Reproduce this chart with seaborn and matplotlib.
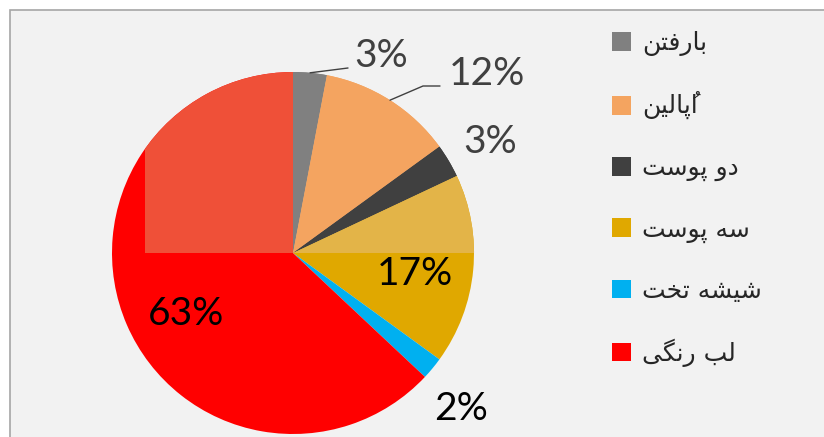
import seaborn as sns
import matplotlib.pyplot as plt
from matplotlib.patches import Rectangle
from matplotlib.transforms import Bbox, TransformedBbox
import numpy as np

# data
materials = ['بارفتن', 'اُپالین', 'دو پوست', 'سه پوست', 'شیشه تخت', 'لب رنگی']
shares = [3, 12, 3, 17, 2, 63]
slice_colors = ['#808080', '#F4A460', '#404040', '#E0A800', '#00B0F0', '#FF0000']
# same slices where the scanned watermark lightens them
washed_colors = ['#808080', '#F4A460', '#404040', '#E3B448', '#00B0F0', '#EF5038']

sns.set_theme(style='white')
plt.rcParams['font.family'] = ['Lato', 'DejaVu Sans']

# matplotlib does no arabic shaping, so pick the joined glyph forms by hand
FORMS = {
    'ا': ('\uFE8D', '\uFE8E', None, None),
    'ب': ('\uFE8F', '\uFE90', '\uFE91', '\uFE92'),
    'ت': ('\uFE95', '\uFE96', '\uFE97', '\uFE98'),
    'خ': ('\uFEA5', '\uFEA6', '\uFEA7', '\uFEA8'),
    'د': ('\uFEA9', '\uFEAA', None, None),
    'ر': ('\uFEAD', '\uFEAE', None, None),
    'س': ('\uFEB1', '\uFEB2', '\uFEB3', '\uFEB4'),
    'ش': ('\uFEB5', '\uFEB6', '\uFEB7', '\uFEB8'),
    'ف': ('\uFED1', '\uFED2', '\uFED3', '\uFED4'),
    'ل': ('\uFEDD', '\uFEDE', '\uFEDF', '\uFEE0'),
    'ن': ('\uFEE5', '\uFEE6', '\uFEE7', '\uFEE8'),
    'ه': ('\uFEE9', '\uFEEA', '\uFEEB', '\uFEEC'),
    'و': ('\uFEED', '\uFEEE', None, None),
    'پ': ('\uFB56', '\uFB57', '\uFB58', '\uFB59'),
    'گ': ('\uFB92', '\uFB93', '\uFB94', '\uFB95'),
    'ی': ('\uFBFC', '\uFBFD', '\uFBFE', '\uFBFF'),
}


def is_mark(c):
    return '\u064B' <= c <= '\u0652'


def shape(text):
    chars = list(text)
    glyphs = []
    for i, c in enumerate(chars):
        if c not in FORMS:
            glyphs.append(c)
            continue
        j = i - 1
        while j >= 0 and is_mark(chars[j]):
            j -= 1
        k = i + 1
        while k < len(chars) and is_mark(chars[k]):
            k += 1
        iso, fin, ini, med = FORMS[c]
        joins_prev = j >= 0 and chars[j] in FORMS and FORMS[chars[j]][2] is not None
        joins_next = ini is not None and k < len(chars) and chars[k] in FORMS
        if joins_prev and joins_next:
            glyphs.append(med)
        elif joins_prev:
            glyphs.append(fin)
        elif joins_next:
            glyphs.append(ini)
        else:
            glyphs.append(iso)
    clusters = []
    for c, g in zip(chars, glyphs):
        if is_mark(c) and clusters:
            clusters[-1] = g + clusters[-1]
        else:
            clusters.append(g)
    return ''.join(reversed(clusters))


W, H = 824, 437
fig = plt.figure(figsize=(W / 100, H / 100), dpi=100, facecolor='white')
ax = fig.add_axes([0, 0, 1, 1])

cx, cy, r = 293, H - 253, 181

# chart area
ax.add_patch(Rectangle((10, -5), W, H - 5, facecolor='#F2F2F2',
                       edgecolor='#A6A6A6', lw=1.2, zorder=0))

wedges, _ = ax.pie(shares, colors=slice_colors, startangle=90, counterclock=False,
                   center=(cx, cy), radius=r, wedgeprops=dict(linewidth=0))
for w in wedges:
    w.set_zorder(1)

# lighter top-left block left by the watermark
washed, _ = ax.pie(shares, colors=washed_colors, startangle=90, counterclock=False,
                   center=(cx, cy), radius=r, wedgeprops=dict(linewidth=0))
ax.set_xlim(0, W)
ax.set_ylim(0, H)
wash_box = TransformedBbox(Bbox([[145, cy], [600, H - 10]]), ax.transData)
for w in washed:
    w.set_clip_on(True)
    w.set_clip_box(wash_box)
    w.set_zorder(2)

# data labels: offset from the centre (x right, y up, baseline)
label_offsets = [(88, 186), (194, 168), (197, 100), (122, -32), (168, -167), (-107, -72)]
label_colors = ['#404040', '#404040', '#404040', 'black', 'black', 'black']
for v, (dx, dy), col in zip(shares, label_offsets, label_colors):
    ax.text(cx + dx, cy + dy, f'{v}%', ha='center', va='baseline',
            fontsize=28, color=col, zorder=4)

# leader lines for the two small top slices
leader_ends = {0: [(55, 185)], 1: [(130, 167), (147, 167)]}
for i, pts in leader_ends.items():
    mid = np.deg2rad((wedges[i].theta1 + wedges[i].theta2) / 2)
    xs = [cx + r * np.cos(mid)] + [cx + p[0] for p in pts]
    ys = [cy + r * np.sin(mid)] + [cy + p[1] for p in pts]
    ax.plot(xs, ys, color='#404040', lw=1, zorder=4)

ax.set_xlim(0, W)
ax.set_ylim(0, H)
ax.axis('off')

leg = ax.legend(wedges, [shape(m) for m in materials], loc='upper left',
                bbox_to_anchor=(612, H - 31), bbox_transform=ax.transData,
                frameon=False, borderpad=0, borderaxespad=0,
                handlelength=0.76, handleheight=0.76, handletextpad=0.45,
                labelspacing=1.44, prop=dict(family='DejaVu Sans', size=18))
for t in leg.get_texts():
    t.set_color('#262626')

fig.savefig('out.png', dpi=100, facecolor='white')
